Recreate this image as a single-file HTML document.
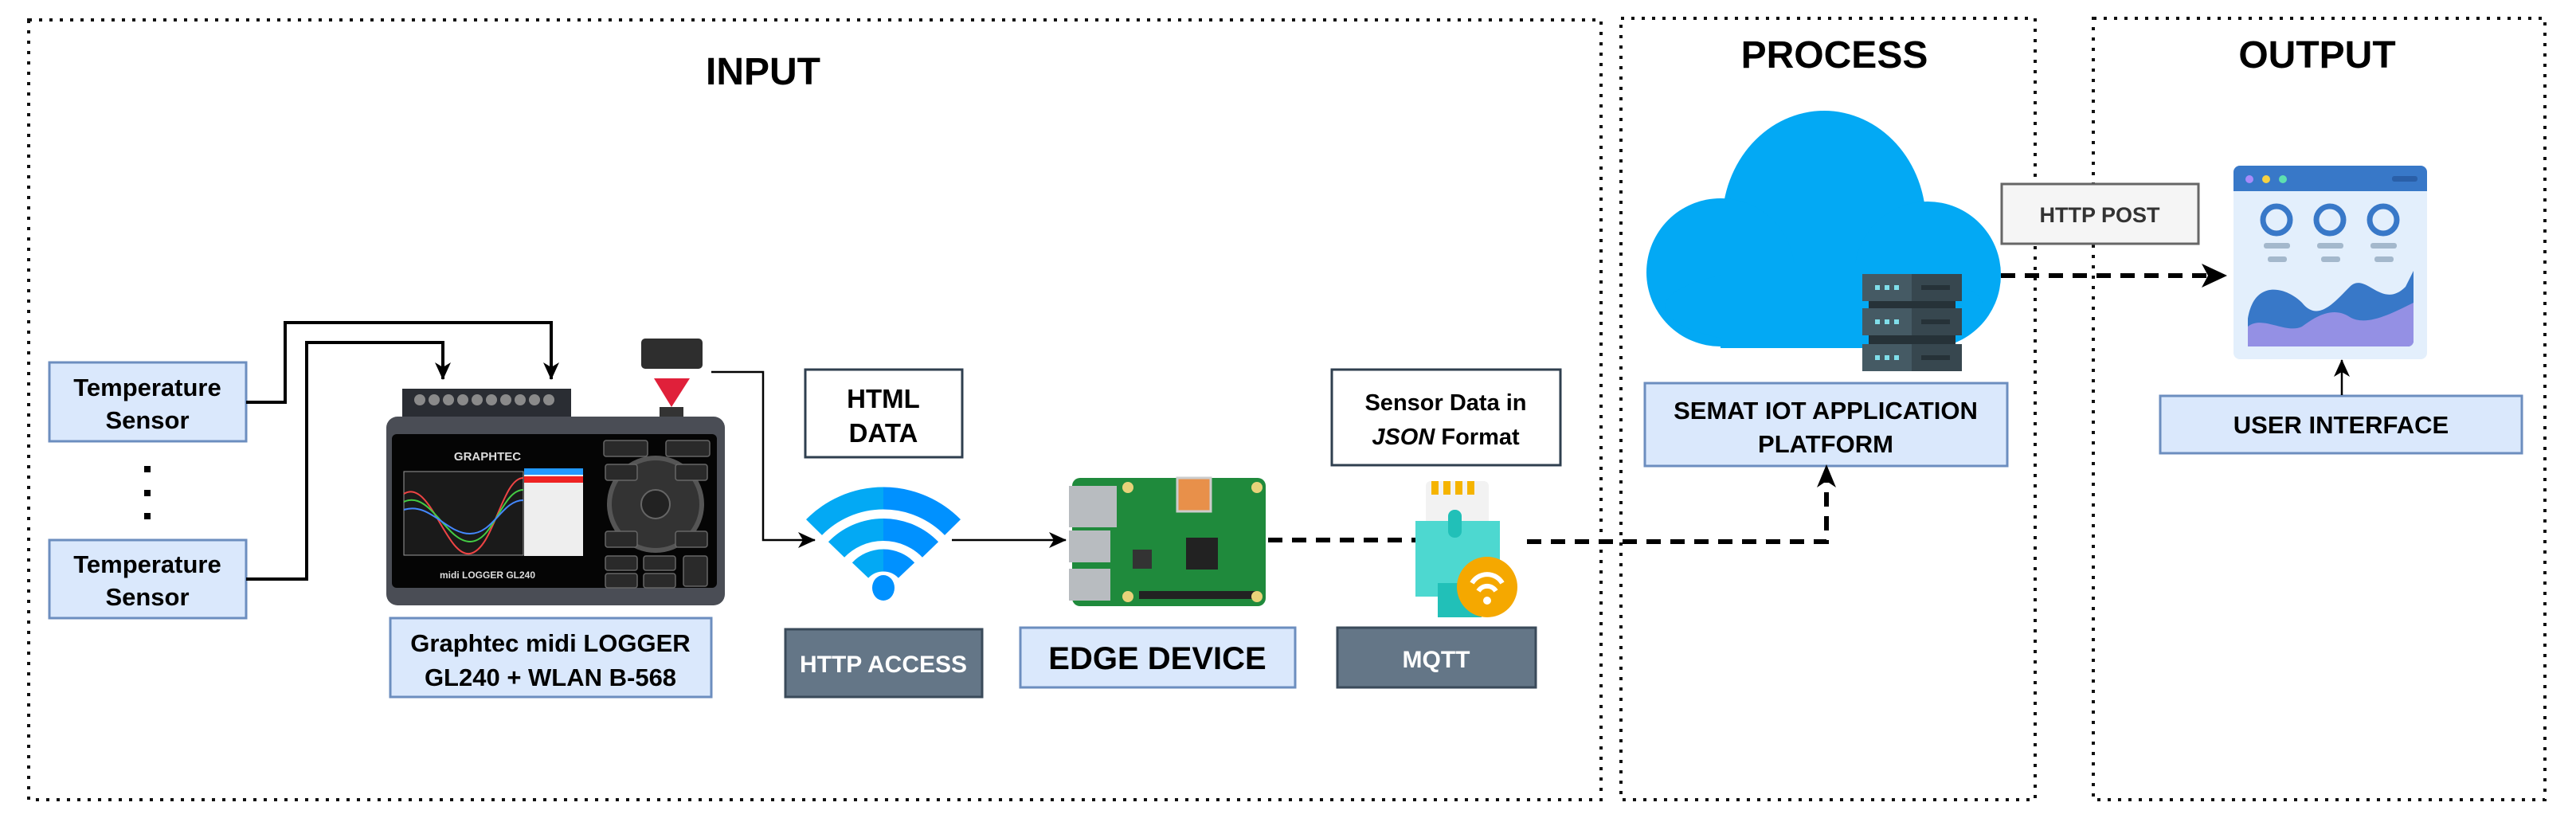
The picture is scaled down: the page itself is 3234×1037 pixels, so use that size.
<!DOCTYPE html>
<html><head><meta charset="utf-8"><style>
html,body{margin:0;padding:0;background:#fff;}
svg{display:block;}
text{font-family:"Liberation Sans",Arial,sans-serif;}
</style></head><body>
<svg width="3234" height="1037" viewBox="0 0 3234 1037" xmlns="http://www.w3.org/2000/svg">
<defs>
<marker id="ah" markerWidth="22" markerHeight="20" refX="21" refY="10" orient="auto" markerUnits="userSpaceOnUse" viewBox="0 0 22 20"><path d="M0,0 L22,10 L0,20 L6,10z" fill="#000"/></marker>
<linearGradient id="wg" x1="0" x2="1"><stop offset="0.5" stop-color="#03a9f4"/><stop offset="0.5" stop-color="#0091ff"/></linearGradient>
</defs>
<g fill="none" stroke="#111" stroke-width="4" stroke-dasharray="4 9">
<rect x="36" y="25" width="1974" height="979"/>
<rect x="2035" y="23" width="520" height="981"/>
<rect x="2628" y="23" width="567" height="981"/>
</g>
<g font-weight="bold" font-size="48" text-anchor="middle" fill="#000">
<text x="958" y="106">INPUT</text>
<text x="2303" y="85">PROCESS</text>
<text x="2909" y="85">OUTPUT</text>
</g>

<g stroke="#6c8ebf" stroke-width="3" fill="#dae8fc">
<rect x="62" y="455" width="247" height="99"/>
<rect x="62" y="678" width="247" height="98"/>
<rect x="490" y="776" width="403" height="99"/>
<rect x="1281" y="788" width="345" height="75"/>
<rect x="2065" y="481" width="455" height="104"/>
<rect x="2712" y="497" width="454" height="72"/>
</g>
<g font-weight="bold" font-size="31" text-anchor="middle" fill="#000">
<text x="185" y="497">Temperature</text><text x="185" y="538">Sensor</text>
<text x="185" y="719">Temperature</text><text x="185" y="760">Sensor</text>
<text x="691" y="818">Graphtec midi LOGGER</text><text x="691" y="861">GL240 + WLAN B-568</text>
<text x="1453" y="840" font-size="40">EDGE DEVICE</text>
<text x="2292" y="526" font-size="31">SEMAT IOT APPLICATION</text><text x="2292" y="568" font-size="31">PLATFORM</text>
<text x="2939" y="544" font-size="31">USER INTERFACE</text>
</g>
<g fill="#000"><rect x="181" y="585" width="8" height="8"/><rect x="181" y="615" width="8" height="8"/><rect x="181" y="644" width="8" height="8"/></g>

<g fill="none" stroke="#000" stroke-width="4">
<path d="M309,505 H358 V405 H692 V476" marker-end="url(#ah)"/>
<path d="M309,727 H385 V430 H556 V476" marker-end="url(#ah)"/>
</g>
<g fill="none" stroke="#000" stroke-width="2.5">
<path d="M893,467 H958 V678 H1023" marker-end="url(#ah)"/>
<path d="M1195,678 H1338" marker-end="url(#ah)"/>
<path d="M2940,496 V452" marker-end="url(#ah)"/>
</g>
<g fill="none" stroke="#000" stroke-width="6" stroke-dasharray="18 12">
<path d="M1592,678 H1778"/>
<path d="M1917,680 H2293 V598"/>
<path d="M2512,346 H2780"/>
</g>
<path d="M2281,612 L2293,583 L2305,612 L2293,604z" fill="#000"/>
<path d="M2764,331 L2796,346 L2764,361 L2772,346z" fill="#000"/>

<rect x="1011" y="464" width="197" height="110" fill="#fff" stroke="#2f3f4f" stroke-width="3"/>
<g font-weight="bold" font-size="33" text-anchor="middle" fill="#000">
<text x="1109" y="512">HTML</text><text x="1109" y="555">DATA</text></g>
<rect x="1672" y="464" width="287" height="120" fill="#fff" stroke="#2f3f4f" stroke-width="3"/>
<g font-weight="bold" font-size="29" text-anchor="middle" fill="#000">
<text x="1815" y="515">Sensor Data in</text><text x="1815" y="558"><tspan font-style="italic">JSON</tspan> Format</text></g>
<rect x="986" y="790" width="247" height="85" fill="#647687" stroke="#3a4a5a" stroke-width="3"/>
<text x="1109" y="844" font-weight="bold" font-size="30" text-anchor="middle" fill="#fff">HTTP ACCESS</text>
<rect x="1679" y="788" width="249" height="75" fill="#647687" stroke="#3a4a5a" stroke-width="3"/>
<text x="1803" y="838" font-weight="bold" font-size="30" text-anchor="middle" fill="#fff">MQTT</text>
<rect x="2513" y="231" width="247" height="75" fill="#f5f5f5" stroke="#666" stroke-width="3"/>
<text x="2636" y="279" font-weight="bold" font-size="27" text-anchor="middle" fill="#333">HTTP POST</text>

<g fill="none" stroke="url(#wg)" stroke-width="28">
<path d="M1022,662 A122,122 0 0 1 1196,662"/>
<path d="M1050,690 A82,82 0 0 1 1168,690"/>
<path d="M1080,716 A40,40 0 0 1 1138,716"/>
</g>
<ellipse cx="1109" cy="738" rx="14" ry="16" fill="#0091ff"/>

<rect x="505" y="488" width="212" height="38" fill="#2a2d33"/>
<g fill="#8a8a8a"><circle cx="527" cy="502" r="7"/><circle cx="545" cy="502" r="7"/><circle cx="563" cy="502" r="7"/><circle cx="581" cy="502" r="7"/><circle cx="599" cy="502" r="7"/><circle cx="617" cy="502" r="7"/><circle cx="635" cy="502" r="7"/><circle cx="653" cy="502" r="7"/><circle cx="671" cy="502" r="7"/><circle cx="689" cy="502" r="7"/></g>
<rect x="485" y="523" width="425" height="237" rx="14" fill="#4a4d55"/>
<rect x="492" y="545" width="408" height="193" rx="6" fill="#050505"/>
<rect x="507" y="592" width="150" height="105" fill="#1a1a1a" stroke="#999" stroke-width="1"/>
<path d="M507,620 C540,600 560,700 590,695 C620,690 630,600 657,600" stroke="#e44" stroke-width="2" fill="none"/>
<path d="M507,630 C540,615 560,680 590,680 C620,680 630,615 657,615" stroke="#4c4" stroke-width="2" fill="none"/>
<path d="M507,640 C540,630 560,670 590,670 C620,670 630,628 657,628" stroke="#48f" stroke-width="2" fill="none"/>
<rect x="658" y="588" width="74" height="110" fill="#eee"/>
<rect x="658" y="588" width="74" height="8" fill="#29f"/><rect x="658" y="598" width="74" height="8" fill="#e22"/>
<text x="612" y="578" font-size="15" font-weight="bold" fill="#ddd" text-anchor="middle">GRAPHTEC</text>
<text x="612" y="726" font-size="12" font-weight="bold" fill="#ddd" text-anchor="middle">midi LOGGER GL240</text>
<circle cx="823" cy="633" r="58" fill="#333" stroke="#555" stroke-width="6"/>
<circle cx="823" cy="633" r="18" fill="#222" stroke="#666" stroke-width="2"/>
<g fill="#2a2a2a" stroke="#666" stroke-width="1.5">
<rect x="758" y="553" width="55" height="20" rx="3"/><rect x="836" y="553" width="55" height="20" rx="3"/>
<rect x="760" y="583" width="40" height="20" rx="3"/><rect x="848" y="583" width="40" height="20" rx="3"/>
<rect x="760" y="667" width="40" height="20" rx="3"/><rect x="848" y="667" width="40" height="20" rx="3"/>
<rect x="760" y="698" width="40" height="18" rx="3"/><rect x="808" y="698" width="40" height="18" rx="3"/>
<rect x="760" y="720" width="40" height="18" rx="3"/><rect x="808" y="720" width="40" height="18" rx="3"/>
<rect x="858" y="698" width="30" height="38" rx="3"/>
</g>
<rect x="805" y="425" width="77" height="38" rx="5" fill="#2e2e2e"/>
<path d="M821,475 L866,475 L843,511z" fill="#e0203a"/>
<rect x="828" y="511" width="30" height="12" fill="#333"/>

<rect x="1346" y="600" width="243" height="161" rx="10" fill="#1f8a3c"/>
<rect x="1342" y="610" width="60" height="52" fill="#b8bcc0"/>
<rect x="1342" y="666" width="52" height="40" fill="#b8bcc0"/>
<rect x="1342" y="714" width="52" height="40" fill="#b8bcc0"/>
<rect x="1478" y="600" width="42" height="42" fill="#e8904a" stroke="#ccc" stroke-width="3"/>
<rect x="1489" y="675" width="40" height="40" fill="#222"/>
<rect x="1422" y="690" width="24" height="24" fill="#333"/>
<rect x="1430" y="742" width="150" height="10" fill="#222"/>
<g fill="#e8d27a"><circle cx="1416" cy="612" r="7"/><circle cx="1578" cy="612" r="7"/><circle cx="1416" cy="749" r="7"/><circle cx="1578" cy="749" r="7"/></g>

<rect x="1790" y="604" width="79" height="55" rx="6" fill="#f2f2f2"/>
<g fill="#f5b400"><rect x="1797" y="604" width="9" height="17"/><rect x="1812" y="604" width="9" height="17"/><rect x="1827" y="604" width="9" height="17"/><rect x="1842" y="604" width="9" height="17"/></g>
<rect x="1777" y="654" width="106" height="95" fill="#4dd8d0"/>
<rect x="1805" y="732" width="55" height="43" fill="#21c0b8"/>
<rect x="1818" y="640" width="17" height="35" rx="8" fill="#21c0b8"/>
<circle cx="1867" cy="737" r="38" fill="#f5a800"/>
<g fill="none" stroke="#fff" stroke-width="6"><path d="M1848,732 A22,22 0 0 1 1886,732"/><path d="M1856,742 A13,13 0 0 1 1878,742"/></g>
<circle cx="1867" cy="754" r="5" fill="#fff"/>

<g fill="#03a9f4">
<ellipse cx="2290" cy="280" rx="128" ry="141"/>
<circle cx="2160" cy="342" r="93"/>
<circle cx="2420" cy="345" r="92"/>
<ellipse cx="2290" cy="385" rx="200" ry="52"/>
<rect x="2160" y="330" width="260" height="107"/>
</g>
<g>
<rect x="2338" y="344" width="125" height="34" fill="#37474f"/><rect x="2338" y="344" width="62" height="34" fill="#455a64"/>
<rect x="2338" y="387" width="125" height="34" fill="#37474f"/><rect x="2338" y="387" width="62" height="34" fill="#455a64"/>
<rect x="2338" y="432" width="125" height="34" fill="#37474f"/><rect x="2338" y="432" width="62" height="34" fill="#455a64"/>
<rect x="2346" y="378" width="109" height="9" fill="#263238"/><rect x="2346" y="421" width="109" height="11" fill="#263238"/>
<g fill="#80deea"><rect x="2354" y="358" width="6" height="6"/><rect x="2366" y="358" width="6" height="6"/><rect x="2378" y="358" width="6" height="6"/>
<rect x="2354" y="401" width="6" height="6"/><rect x="2366" y="401" width="6" height="6"/><rect x="2378" y="401" width="6" height="6"/>
<rect x="2354" y="446" width="6" height="6"/><rect x="2366" y="446" width="6" height="6"/><rect x="2378" y="446" width="6" height="6"/></g>
<g fill="#263238"><rect x="2412" y="358" width="36" height="6"/><rect x="2412" y="401" width="36" height="6"/><rect x="2412" y="446" width="36" height="6"/></g>
</g>

<rect x="2804" y="208" width="243" height="243" rx="8" fill="#e3effc"/>
<path d="M2804,240 V216 a8,8 0 0 1 8,-8 H3039 a8,8 0 0 1 8,8 V240z" fill="#3878c8"/>
<circle cx="2824" cy="225" r="5" fill="#a78bfa"/><circle cx="2845" cy="225" r="5" fill="#f5d142"/><circle cx="2866" cy="225" r="5" fill="#5ee0b0"/>
<rect x="3003" y="221" width="32" height="7" rx="3" fill="#2a5fa8"/>
<g fill="none" stroke="#3878c8" stroke-width="7">
<circle cx="2858" cy="276" r="17"/><circle cx="2925" cy="276" r="17"/><circle cx="2992" cy="276" r="17"/></g>
<g fill="#a4b8cc"><rect x="2842" y="305" width="33" height="7" rx="3"/><rect x="2909" y="305" width="33" height="7" rx="3"/><rect x="2976" y="305" width="33" height="7" rx="3"/>
<rect x="2847" y="322" width="24" height="7" rx="3"/><rect x="2914" y="322" width="24" height="7" rx="3"/><rect x="2981" y="322" width="24" height="7" rx="3"/></g>
<path d="M2822,435 V400 C2830,350 2870,360 2890,380 C2910,405 2930,380 2950,360 C2970,340 2990,390 3020,360 L3030,340 V428 a7,7 0 0 1 -7,7z" fill="#3878c8"/>
<path d="M2822,435 V410 C2840,395 2870,420 2890,410 C2910,395 2930,385 2950,398 C2970,410 3000,395 3030,380 V428 a7,7 0 0 1 -7,7z" fill="#9490e4"/>
</svg>
</body></html>
